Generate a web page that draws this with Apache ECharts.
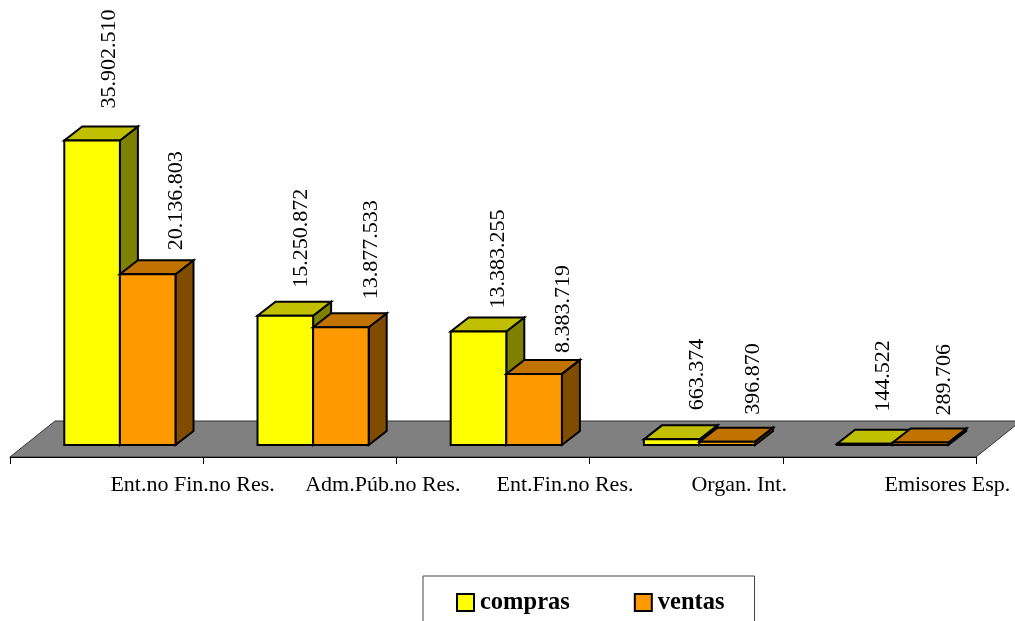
<!DOCTYPE html>
<html><head><meta charset="utf-8">
<style>html,body{margin:0;padding:0;background:#fff;overflow:hidden}#c{width:1015px;height:621px}</style>
<script src="https://cdn.jsdelivr.net/npm/echarts@6/dist/echarts.min.js"></script>
</head><body><div id="c"></div>
<script>
const categories = ['Ent.no Fin.no Res.','Adm.Púb.no Res.','Ent.Fin.no Res.','Organ. Int.','Emisores Esp.'];
const compras = [35902510,15250872,13383255,663374,144522];
const ventas = [20136803,13877533,8383719,396870,289706];
// hand placement of the data labels, as in the original
const comprasLabelDx = [-11,-12,-8,-2,-9];
const comprasLabelGap = [32,28,23,29,32];
const ventasLabelDx = [1,3,1,-2,-4];
const ventasLabelGap = [24,28,21,27,27];
const categoryLabelShift = [86,83,72,53,68];

const DX=18, DY=14, BAR=55.6, SHIFT=13.3;
const FONT='"Liberation Serif","Times New Roman",serif';
const fmt=v=>String(v).replace(/\B(?=(\d{3})+$)/g,'.');

function barSeries(name,values,side,colors,dxs,gaps){
  return {name,type:'custom',coordinateSystem:'cartesian2d',z:side===0?3:4,clip:false,
    data:values.map((v,i)=>[i,v]),encode:{x:0,y:1},
    itemStyle:{color:colors[0]},
    renderItem(params,api){
      const i=api.value(0), v=api.value(1);
      const p0=api.coord([i,0]), p1=api.coord([i,v]);
      const x0=p0[0]+SHIFT-BAR+side*BAR, x1=x0+BAR, yb=p0[1], yt=p1[1];
      const st={stroke:'#000',lineWidth:2,lineJoin:'miter'};
      const poly=(pts,fill)=>({type:'polygon',shape:{points:pts},style:Object.assign({fill},st)});
      return {type:'group',children:[
        poly([[x1,yb],[x1+DX,yb-DY],[x1+DX,yt-DY],[x1,yt]],colors[2]),
        poly([[x0,yt],[x1,yt],[x1+DX,yt-DY],[x0+DX,yt-DY]],colors[1]),
        poly([[x0,yb],[x1,yb],[x1,yt],[x0,yt]],colors[0]),
        {type:'text',x:x1+dxs[i],y:yt-gaps[i],rotation:Math.PI/2,z2:50,
         style:{text:fmt(v),fill:'#000',font:'22px '+FONT,align:'left',verticalAlign:'middle'}}
      ]};
    }};
}

const option={
  animation:false,backgroundColor:'#fff',tooltip:{show:false},
  grid:{left:10,top:105.8,width:966,height:339.2},
  xAxis:{type:'category',offset:12,z:2,
    data:categories.map((c,i)=>({value:c,textStyle:{padding:[0,0,0,categoryLabelShift[i]*2]}})),
    axisLine:{show:true,onZero:false,lineStyle:{color:'#000',width:1}},
    axisTick:{show:true,length:7,lineStyle:{color:'#000',width:1}},
    splitLine:{show:false},
    axisLabel:{interval:0,margin:17,color:'#000',fontFamily:FONT,fontSize:22,hideOverlap:false}},
  yAxis:{type:'value',min:0,max:40000000,show:false,splitLine:{show:false}},
  legend:{show:true,left:423,top:576,orient:'horizontal',
    data:[{name:'compras',icon:'rect'},{name:'ventas',icon:'rect'}],
    itemWidth:17,itemHeight:17,itemGap:64,
    padding:[14,30,50,33],
    borderColor:'#444',borderWidth:1,backgroundColor:'#fff',
    selectedMode:false,
    itemStyle:{borderColor:'#000',borderWidth:2},
    textStyle:{color:'#000',fontFamily:FONT,fontSize:24.5,fontWeight:'bold',padding:[4,0,0,1]}},
  series:[
    {name:'floor',type:'custom',coordinateSystem:'cartesian2d',z:1,clip:false,silent:true,
     data:[[0,0]],encode:{x:0,y:1},
     renderItem(params){
       const c=params.coordSys, f=c.y+c.height+12, b=c.y+c.height-24, l=c.x, r=c.x+c.width, d=45;
       return {type:'polygon',shape:{points:[[l,f],[r,f],[r+d,b],[l+d,b]]},
         style:{fill:'#808080',stroke:'#333',lineWidth:1}};
     }},
    barSeries('compras',compras,0,['#FFFF00','#C0C000','#808000'],comprasLabelDx,comprasLabelGap),
    barSeries('ventas',ventas,1,['#FF9900','#C07300','#804D00'],ventasLabelDx,ventasLabelGap)
  ]
};
const chart=echarts.init(document.getElementById('c'),null,{renderer:'canvas'});
chart.setOption(option);
</script></body></html>
